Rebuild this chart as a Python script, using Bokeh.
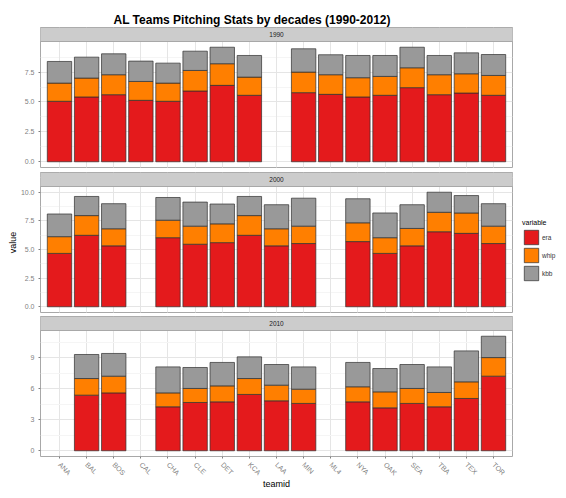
import math
from bokeh.plotting import figure
from bokeh.models import (ColumnDataSource, FactorRange, Range1d, FixedTicker,
                          Grid, CategoricalTicker, Legend, LegendItem)
from bokeh.layouts import column, row
from bokeh.embed import file_html
from bokeh.resources import INLINE
from bokeh.core.properties import value

# ---------------- data ----------------
teams = ["ANA", "BAL", "BOS", "CAL", "CHA", "CLE", "DET", "KCA", "LAA",
         "MIN", "ML4", "NYA", "OAK", "SEA", "TBA", "TEX", "TOR"]
variables = ["era", "whip", "kbb"]
decades = ["1990", "2000", "2010"]

teams_1990 = ["ANA", "BAL", "BOS", "CAL", "CHA", "CLE", "DET", "KCA",
              "MIN", "ML4", "NYA", "OAK", "SEA", "TBA", "TEX", "TOR"]
era_1990 = [5.06, 5.42, 5.61, 5.14, 5.06, 5.92, 6.39, 5.56,
            5.78, 5.64, 5.42, 5.56, 6.20, 5.61, 5.75, 5.56]
whip_1990 = [1.52, 1.58, 1.67, 1.58, 1.52, 1.72, 1.81, 1.52,
             1.72, 1.64, 1.61, 1.58, 1.66, 1.67, 1.61, 1.66]
kbb_1990 = [1.81, 1.75, 1.75, 1.70, 1.67, 1.61, 1.38, 1.81,
            1.95, 1.67, 1.86, 1.75, 1.72, 1.61, 1.75, 1.75]

teams_2000 = ["ANA", "BAL", "BOS", "CHA", "CLE", "DET", "KCA", "LAA",
              "MIN", "NYA", "OAK", "SEA", "TBA", "TEX", "TOR"]
era_2000 = [4.66, 6.24, 5.32, 6.03, 5.46, 5.60, 6.24, 5.32,
            5.52, 5.69, 4.66, 5.32, 6.55, 6.41, 5.52]
whip_2000 = [1.46, 1.72, 1.49, 1.53, 1.58, 1.64, 1.72, 1.49,
             1.52, 1.64, 1.37, 1.52, 1.70, 1.78, 1.52]
kbb_2000 = [1.98, 1.67, 2.19, 1.98, 2.10, 1.73, 1.67, 2.10,
            2.44, 2.10, 2.16, 2.07, 1.75, 1.52, 1.96]

teams_2010 = ["BAL", "BOS", "CHA", "CLE", "DET", "KCA", "LAA",
              "MIN", "NYA", "OAK", "SEA", "TBA", "TEX", "TOR"]
era_2010 = [5.39, 5.61, 4.26, 4.68, 4.74, 5.46, 4.84,
            4.59, 4.74, 4.16, 4.59, 4.26, 5.07, 7.23]
whip_2010 = [1.61, 1.62, 1.35, 1.36, 1.55, 1.54, 1.52,
             1.38, 1.46, 1.55, 1.45, 1.39, 1.61, 1.80]
kbb_2010 = [2.33, 2.20, 2.52, 2.03, 2.27, 2.10, 2.00,
            2.16, 2.36, 2.26, 2.32, 2.48, 3.00, 2.07]

ticks_1990 = [0.0, 2.5, 5.0, 7.5]
tick_labels_1990 = ["0.0", "2.5", "5.0", "7.5"]
ticks_2000 = [0.0, 2.5, 5.0, 7.5, 10.0]
tick_labels_2000 = ["0.0", "2.5", "5.0", "7.5", "10.0"]
ticks_2010 = [0.0, 3.0, 6.0, 9.0]
tick_labels_2010 = ["0", "3", "6", "9"]

colors = ["#E41A1C", "#FF7F00", "#999999"]

# ---------------- style ----------------
FONT = "Liberation Sans"
LABEL_W = 17
FRAME_W = 472
LEFT = 22
RIGHT = 45
PANEL_H = 126
STRIP_H = 14
TOPS = [27, 1, 0]
BOTTOMS = [4, 4, 34]
GRID_MAJOR = "#E5E5E5"
GRID_MINOR = "#F5F5F5"
BORDER = "#A8A8A8"
TICK_TEXT = "#7F7F7F"

panels = [
    (decades[0], teams_1990, era_1990, whip_1990, kbb_1990, ticks_1990, tick_labels_1990),
    (decades[1], teams_2000, era_2000, whip_2000, kbb_2000, ticks_2000, tick_labels_2000),
    (decades[2], teams_2010, era_2010, whip_2010, kbb_2010, ticks_2010, tick_labels_2010),
]

figs = []
for i, (dec, tm, era, whip, kbb, ticks, tlabels) in enumerate(panels):
    first = i == 0
    last = i == len(panels) - 1
    totals = [a + b + c for a, b, c in zip(era, whip, kbb)]
    M = max(totals)
    lo, hi = -0.05 * M, 1.05 * M
    top = hi + (hi - lo) * STRIP_H / PANEL_H

    p = figure(
        x_range=FactorRange(factors=teams, range_padding=0.2,
                            range_padding_units="absolute"),
        y_range=Range1d(lo, top),
        frame_width=FRAME_W, frame_height=PANEL_H + STRIP_H,
        output_backend="svg", toolbar_location=None,
        x_axis_location="below" if last else None,
        min_border=0,
        min_border_left=LEFT, min_border_right=RIGHT,
        min_border_top=TOPS[i], min_border_bottom=BOTTOMS[i],
    )
    p.background_fill_color = "white"
    p.border_fill_color = "white"
    p.outline_line_color = BORDER
    p.outline_line_width = 1

    if first:
        p.title.text = "AL Teams Pitching Stats by decades (1990-2012)"
        p.title.align = "left"
        p.title.offset = 73
        p.title.text_font = FONT
        p.title.text_font_size = "12px"
        p.title.text_font_style = "bold"
        p.title.text_color = "black"
        p.title.standoff = 2

    # y axis
    yax = p.yaxis[0]
    minor = [(a + b) / 2 for a, b in zip(ticks[:-1], ticks[1:])]
    minor.append(ticks[-1] + (ticks[1] - ticks[0]) / 2)
    yax.ticker = FixedTicker(ticks=ticks, minor_ticks=minor)
    yax.major_label_overrides = {t: l for t, l in zip(ticks, tlabels)}
    yax.axis_line_color = None
    yax.major_tick_line_color = TICK_TEXT
    yax.major_tick_out = 2
    yax.major_tick_in = 0
    yax.minor_tick_line_color = None
    yax.major_label_text_font = FONT
    yax.major_label_text_font_size = "7px"
    yax.major_label_text_color = TICK_TEXT
    yax.major_label_standoff = 2

    p.ygrid.grid_line_color = GRID_MAJOR
    p.ygrid.minor_grid_line_color = GRID_MINOR

    if last:
        xax = p.xaxis[0]
        xax.axis_line_color = None
        xax.major_tick_line_color = TICK_TEXT
        xax.major_tick_out = 2
        xax.major_tick_in = 0
        xax.minor_tick_line_color = None
        xax.major_label_orientation = -math.pi / 4
        xax.major_label_text_font = FONT
        xax.major_label_text_font_size = "7px"
        xax.major_label_text_color = TICK_TEXT
        xax.major_label_standoff = 5
        xax.axis_label = "teamid"
        xax.axis_label_text_font = FONT
        xax.axis_label_text_font_size = "9px"
        xax.axis_label_text_font_style = "normal"
        xax.axis_label_text_color = "black"
        xax.axis_label_standoff = -3
        p.xgrid.grid_line_color = GRID_MAJOR
    else:
        p.add_layout(Grid(dimension=0, ticker=CategoricalTicker(),
                          grid_line_color=GRID_MAJOR))

    src = ColumnDataSource(dict(team=tm, era=era, whip=whip, kbb=kbb))
    rends = p.vbar_stack(variables, x="team", width=0.9, source=src,
                         fill_color=colors, line_color="#2E2E2E",
                         line_width=0.7)

    # facet strip
    p.quad(left=[-1.0], right=[len(teams) + 1.0], bottom=[hi], top=[top],
           fill_color="#CCCCCC", line_color=BORDER, line_width=1)
    p.text(x=[len(teams) / 2], y=[(hi + top) / 2], text=[dec],
           text_align="center", text_baseline="middle",
           text_font=value(FONT), text_font_size="6.5px",
           text_color="#1A1A1A")

    if i == 1:
        legend = Legend(
            items=[LegendItem(label=v, renderers=[r]) for v, r in zip(variables, rends)],
            title="variable", location=(10, 30),
            orientation="vertical",
            title_text_font=FONT, title_text_font_size="7px",
            title_text_font_style="normal",
            title_text_color="black", title_standoff=2,
            label_text_font=FONT, label_text_font_size="6.5px",
            label_text_color="#333333", label_standoff=2,
            glyph_width=18, glyph_height=18, label_height=18,
            spacing=0, padding=2, margin=0,
            border_line_color=None, background_fill_color=None,
        )
        p.add_layout(legend, "right")

    figs.append(p)

# y-axis title shared by all facets
total_h = sum(TOPS) + sum(BOTTOMS) + 3 * (PANEL_H + STRIP_H)
mid_from_top = TOPS[0] + PANEL_H + STRIP_H + BOTTOMS[0] + TOPS[1] + (PANEL_H + STRIP_H) / 2
lab = figure(width=LABEL_W, height=total_h, x_range=Range1d(0, LABEL_W),
             y_range=Range1d(0, total_h), output_backend="svg",
             toolbar_location=None, x_axis_location=None, y_axis_location=None,
             min_border=0)
lab.outline_line_color = None
lab.background_fill_color = "white"
lab.border_fill_color = "white"
lab.xgrid.visible = False
lab.ygrid.visible = False
lab.text(x=[12], y=[total_h - mid_from_top], text=["value"],
         angle=math.pi / 2, text_align="center", text_baseline="middle",
         text_font=value(FONT), text_font_size="9px", text_color="black")

layout = row(lab, column(*figs))
open("out.html", "w").write(file_html(layout, INLINE))
